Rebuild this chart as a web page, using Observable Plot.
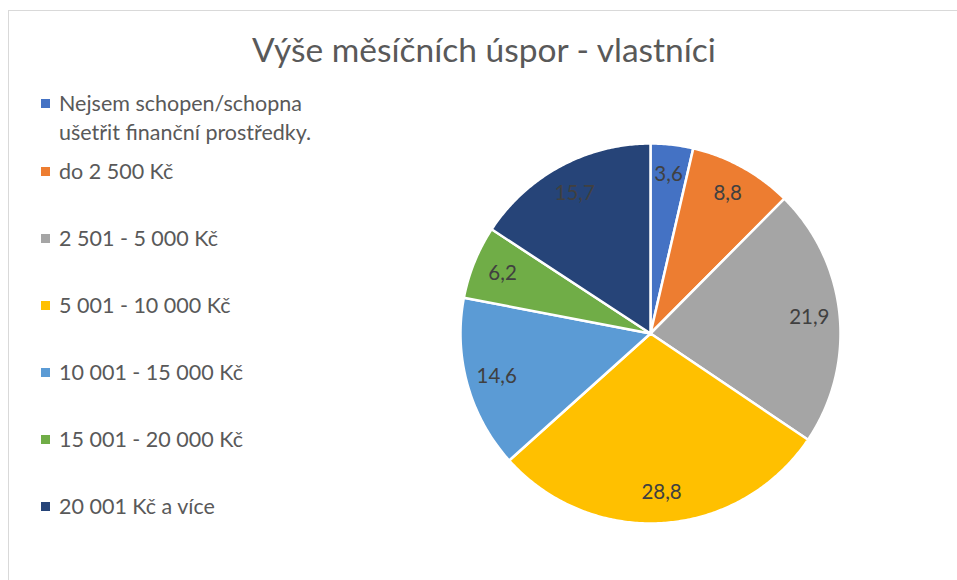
<!DOCTYPE html>
<html>
<head>
<meta charset="utf-8">
<script src="https://cdn.jsdelivr.net/npm/d3@7"></script>
<script src="https://cdn.jsdelivr.net/npm/@observablehq/plot@0.6"></script>
<style>
  html, body { margin: 0; padding: 0; background: #fff; }
  body { width: 957px; height: 580px; position: relative; overflow: hidden; font-family: Lato, "Open Sans", sans-serif; }
  #frame { position: absolute; left: 8px; top: 10px; width: 1000px; height: 700px; border: 1.5px solid #d9d9d9; box-sizing: border-box; }
  #chart { position: absolute; left: 0; top: 0; }
  #title { position: absolute; left: 8px; width: 952px; top: 29px; text-align: center; font-size: 33.5px; line-height: 40px; color: #595959; white-space: nowrap; }
  .leg { position: absolute; left: 41px; color: #595959; font-size: 21.5px; line-height: 29px; }
  .leg .sw { position: absolute; left: 0; top: 10px; width: 9px; height: 9px; }
  .leg .tx { position: absolute; left: 18px; top: 0; white-space: nowrap; }
</style>
</head>
<body>
<div id="frame"></div>
<div id="chart"></div>
<div id="title">Výše měsíčních úspor - vlastníci</div>
<div id="legend"></div>
<script>
const titleText = "Výše měsíčních úspor - vlastníci";
const categories = [
  "Nejsem schopen/schopna\nušetřit finanční prostředky.",
  "do 2 500 Kč",
  "2 501 - 5 000 Kč",
  "5 001 - 10 000 Kč",
  "10 001 - 15 000 Kč",
  "15 001 - 20 000 Kč",
  "20 001 Kč a více"
];
const values = [3.6, 8.8, 21.9, 28.8, 14.6, 6.2, 15.7];
const colors = ["#4472C4", "#ED7D31", "#A5A5A5", "#FFC000", "#5B9BD5", "#70AD47", "#264478"];

// pie geometry (angles from the values)
const total = d3.sum(values);
const slices = [];
const labels = [];
let acc = 0;
values.forEach((v, i) => {
  const a0 = acc / total * 2 * Math.PI;
  acc += v;
  const a1 = acc / total * 2 * Math.PI;
  const n = Math.max(2, Math.ceil((a1 - a0) / 0.01));
  slices.push({cat: categories[i], x: 0, y: 0});
  for (let k = 0; k <= n; k++) {
    const a = a0 + (a1 - a0) * k / n;
    slices.push({cat: categories[i], x: Math.sin(a), y: Math.cos(a)});
  }
  slices.push({cat: categories[i], x: 0, y: 0});
  const am = (a0 + a1) / 2;
  labels.push({cat: categories[i], value: v, x: 0.84 * Math.sin(am), y: 0.84 * Math.cos(am)});
});

const cx = 650, cy = 333, r = 190;
const plot = Plot.plot({
  width: 957,
  height: 580,
  margin: 0,
  style: {background: "transparent", overflow: "visible"},
  x: {domain: [-1, 1], range: [cx - r, cx + r], axis: null},
  y: {domain: [-1, 1], range: [cy + r, cy - r], axis: null},
  color: {domain: categories, range: colors},
  marks: [
    Plot.line(slices, {x: "x", y: "y", z: "cat", fill: "cat", stroke: "#fff", strokeWidth: 2.5, strokeLinejoin: "round", curve: "linear"}),
    Plot.text(labels, {x: "x", y: "y", text: d => d.value.toFixed(1).replace(".", ","), fill: "#404040", fontSize: 20.5, fontFamily: "Lato, 'Open Sans', sans-serif"})
  ]
});
document.getElementById("chart").appendChild(plot);

// legend
const leg = document.getElementById("legend");
categories.forEach((c, i) => {
  const top = i === 0 ? 89 : 157 + (i - 1) * 67;
  const div = document.createElement("div");
  div.className = "leg";
  div.style.top = top + "px";
  const sw = document.createElement("div");
  sw.className = "sw";
  sw.style.background = colors[i];
  const tx = document.createElement("div");
  tx.className = "tx";
  tx.innerHTML = c.split("\n").join("<br>");
  div.appendChild(sw);
  div.appendChild(tx);
  leg.appendChild(div);
});
</script>
</body>
</html>
